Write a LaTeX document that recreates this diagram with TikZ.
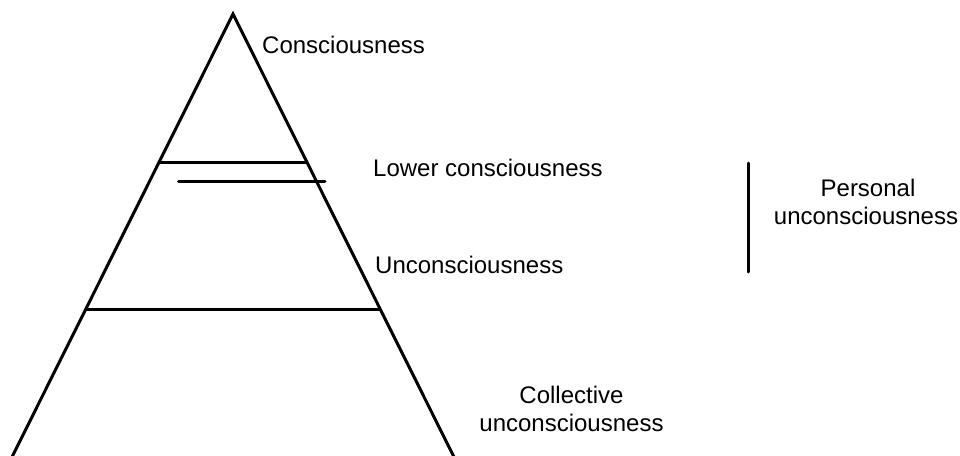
\documentclass[tikz,border=0pt]{standalone}
\usepackage{fontspec}
\setmainfont{Liberation Sans}
\begin{document}
\begin{tikzpicture}[x=1pt,y=-1pt,
  edge/.style={line width=3pt,black},
  rline/.style={line width=3pt,black,line cap=round},
  lab/.style={inner sep=0pt,anchor=base west,font=\fontsize{24}{28}\selectfont},
  clab/.style={inner sep=0pt,anchor=base,font=\fontsize{24}{28}\selectfont}]
\useasboundingbox (0,0) rectangle (960,455);
% triangle
\coordinate (apex) at (233,14);
\coordinate (bl) at (12,457);
\coordinate (br) at (454,457);
\draw[edge,line join=miter] (bl) -- (apex) -- (br);
% levels
\coordinate (l1a) at (159,162);
\coordinate (l1b) at (307,162);
\draw[edge] (l1a) -- (l1b);
\coordinate (l2a) at (178.5,181);
\coordinate (l2b) at (325,181);
\draw[rline] (l2a) -- (l2b);
\coordinate (l3a) at (86,309);
\coordinate (l3b) at (380,309);
\draw[edge] (l3a) -- (l3b);
% personal bracket
\coordinate (pa) at (748,163);
\coordinate (pb) at (748,272);
\draw[rline] (pa) -- (pb);
% labels
\node[lab] (cons) at (262,53) {Consciousness};
\node[lab] (lower) at (373,176) {Lower consciousness};
\node[lab] (uncons) at (375,273) {Unconsciousness};
\node[clab] (pers1) at (868,196.5) {Personal};
\node[clab] (pers2) at (866,224.5) {unconsciousness};
\node[clab] (coll1) at (571.5,403) {Collective};
\node[clab] (coll2) at (571.5,431.5) {unconsciousness};
\end{tikzpicture}
\end{document}
